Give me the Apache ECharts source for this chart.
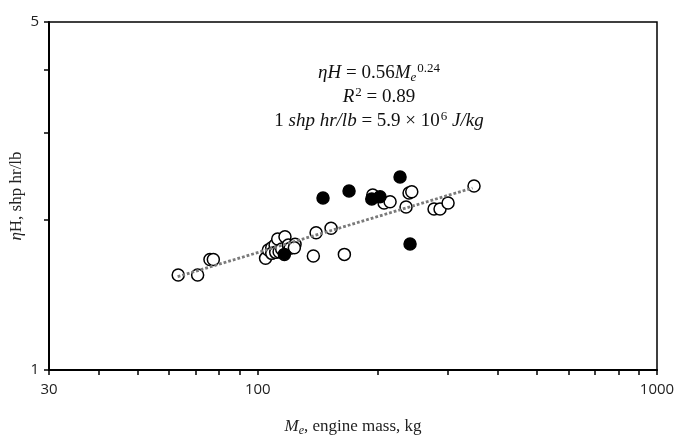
<!DOCTYPE html>
<html>
<head>
<meta charset="utf-8">
<script src="https://cdn.jsdelivr.net/npm/echarts@6/dist/echarts.min.js"></script>
<style>
html, body { margin: 0; padding: 0; background: #fff; }
#chart { width: 680px; height: 437px; }
</style>
</head>
<body>
<div id="chart"></div>
<script>
// engine mass (kg) and ηH (shp hr/lb), open circles
const openMass = [63.2, 70.7, 75.9, 77.4, 104.6, 106.3, 108.4, 110.5, 112.2, 117.0, 108.4, 110.9, 113.1, 114.8,
    119.3, 120.5, 124.0, 123.5, 137.8, 140.0, 152.6, 164.8, 194.1, 207.2, 214.5, 235.2, 239.3, 243.1, 276.4, 286.1, 299.7, 348.1]
const openEta = [1.552, 1.552, 1.667, 1.667, 1.676, 1.742, 1.760, 1.783, 1.833, 1.852, 1.715, 1.723, 1.728, 1.750,
    1.783, 1.756, 1.788, 1.760, 1.694, 1.887, 1.926, 1.707, 2.246, 2.165, 2.178, 2.125, 2.268, 2.281, 2.105, 2.105, 2.165, 2.342]
// filled circles
const filledMass = [145.7, 169.3, 193.0, 202.4, 227.2, 240.7, 116.6]
const filledEta = [2.215, 2.289, 2.205, 2.229, 2.441, 1.791, 1.707]
// fitted power line ends
const fitMass = [63, 345]
const fitEta = [1.54, 2.32]
// axis ticks / labels
const xTicks = [30, 40, 50, 60, 70, 80, 90, 100, 200, 300, 400, 500, 600, 700, 800, 900, 1000]
const xLabels = [30, 100, 1000]
const yTicks = [1, 2, 3, 4, 5]
const yLabels = [1, 5]

const pairs = (xs, ys) => xs.map((x, i) => [x, ys[i]])

const serif = "'Liberation Serif', 'DejaVu Serif', serif"
const sans = "'Open Sans', 'Liberation Sans', sans-serif"

// equation box rich styles
const eqRich = {
    i: {fontFamily: serif, fontStyle: 'italic', fontSize: 19, fill: '#111'},
    n: {fontFamily: serif, fontSize: 19, fill: '#111'},
    sup: {fontFamily: serif, fontSize: 13, fill: '#111', padding: [0, 0, 9, 1]},
    sub: {fontFamily: serif, fontStyle: 'italic', fontSize: 13, fill: '#111', padding: [9, 0, 0, 0]}
}
const eqLine = (text, y) => ({
    type: 'text', x: 379, y: y,
    style: {text: text, align: 'center', verticalAlign: 'middle', rich: eqRich}
})

const chart = echarts.init(document.getElementById('chart'))
chart.setOption({
    backgroundColor: '#fff',
    animation: false,
    grid: {
        left: 49, right: 23, top: 22, bottom: 67,
        outerBoundsMode: 'none',
        containLabel: false,
        show: true, borderColor: '#000', borderWidth: 1.5
    },
    xAxis: {
        type: 'log', logBase: 10, min: 30, max: 1000,
        axisLine: {show: true, onZero: false, lineStyle: {color: '#000', width: 2}},
        axisTick: {show: true, customValues: xTicks, length: 5, lineStyle: {color: '#000', width: 1.5}},
        axisLabel: {customValues: xLabels, margin: 12, fontSize: 15, color: '#222', fontFamily: sans,
            formatter: v => String(Math.round(v))},
        splitLine: {show: false},
        name: '{i|M}{sub|e}{n|, engine mass, kg}',
        nameLocation: 'middle',
        nameGap: 47,
        nameMoveOverlap: false,
        nameTextStyle: {
            rich: {
                i: {fontFamily: serif, fontStyle: 'italic', fontSize: 17, color: '#222'},
                sub: {fontFamily: serif, fontStyle: 'italic', fontSize: 12, color: '#222', padding: [8, 0, 0, 0]},
                n: {fontFamily: serif, fontSize: 17, color: '#222'}
            }
        }
    },
    yAxis: {
        type: 'log', logBase: 10, min: 1, max: 5,
        axisLine: {show: true, onZero: false, lineStyle: {color: '#000', width: 2}},
        axisTick: {show: true, customValues: yTicks, length: 5, lineStyle: {color: '#000', width: 1.5}},
        axisLabel: {customValues: yLabels, margin: 10, fontSize: 15, color: '#222', fontFamily: sans,
            formatter: v => String(Math.round(v))},
        splitLine: {show: false},
        name: '{i|η}{n|H, shp hr/lb}',
        nameLocation: 'middle',
        nameGap: 24,
        nameRotate: 90,
        nameMoveOverlap: false,
        nameTextStyle: {
            rich: {
                i: {fontFamily: serif, fontStyle: 'italic', fontSize: 17, color: '#222'},
                n: {fontFamily: serif, fontSize: 17, color: '#222'}
            }
        }
    },
    graphic: [
        eqLine('{i|ηH}{n| = 0.56}{i|M}{sub|e}{sup|0.24}', 73),
        eqLine('{i|R}{sup|2}{n| = 0.89}', 97),
        eqLine('{n|1 }{i|shp hr/lb}{n| = 5.9 × 10}{sup|6}{n| }{i|J/kg}', 121)
    ],
    series: [{
        type: 'line',
        data: pairs(fitMass, fitEta),
        showSymbol: false,
        silent: true,
        lineStyle: {color: '#7a7a7a', width: 2.8, type: [2.8, 2]}
    }, {
        type: 'scatter',
        data: pairs(openMass, openEta),
        symbol: 'circle',
        symbolSize: 12,
        itemStyle: {color: '#fff', borderColor: '#000', borderWidth: 1.5, opacity: 1}
    }, {
        type: 'scatter',
        data: pairs(filledMass, filledEta),
        symbol: 'circle',
        symbolSize: 12,
        itemStyle: {color: '#000', borderColor: '#000', borderWidth: 1.5, opacity: 1}
    }]
})
</script>
</body>
</html>
